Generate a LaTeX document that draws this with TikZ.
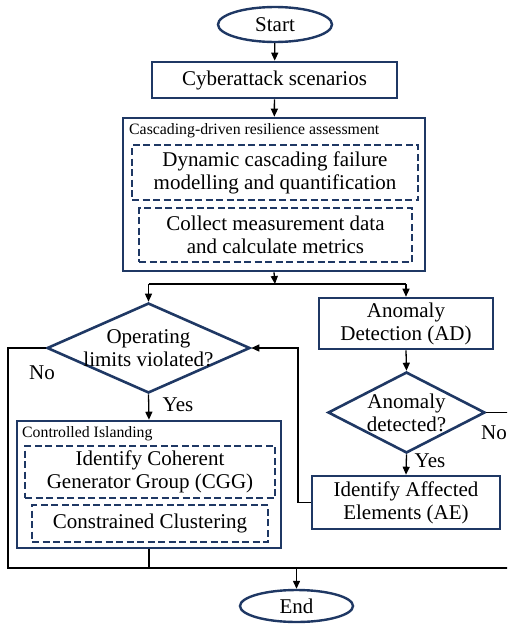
\documentclass[tikz,border=0pt]{standalone}
\usepackage{fontspec}
\setmainfont{Liberation Serif}
\usetikzlibrary{shapes.geometric,arrows.meta}
\definecolor{navy}{HTML}{1F3864}
\tikzset{
  x=1pt,y=-1pt,
  bigtxt/.style={font=\fontsize{21}{23}\selectfont,align=center},
  smalltxt/.style={font=\fontsize{15.8}{18}\selectfont,inner sep=0pt},
  solidbox/.style={draw=navy,line width=2.6pt,rectangle,inner sep=0pt,bigtxt},
  dashbox/.style={draw=navy,line width=2.2pt,dash pattern=on 7pt off 3.5pt,rectangle,inner sep=0pt,bigtxt},
  term/.style={draw=navy,line width=2.4pt,ellipse,inner sep=0pt,bigtxt},
  decision/.style={draw=navy,line width=2.6pt,diamond,inner sep=0pt},
  conn/.style={draw=black,line width=1.3pt},
  arr/.style={conn,-{Triangle[length=8pt,width=7pt]}},
  lbl/.style={bigtxt,inner sep=0pt}
}
\begin{document}
\begin{tikzpicture}
\useasboundingbox (0,0) rectangle (507,624);
\clip (0,0) rectangle (507,624);
% nodes
\node[term,minimum width=114,minimum height=35] (start) at (275,24.5) {Start};
\node[solidbox,minimum width=245,minimum height=36] (cyber) at (274.5,80) {Cyberattack scenarios};
\node[solidbox,minimum width=302,minimum height=153] (cas) at (274,194.5) {};
\node[smalltxt,anchor=north west] (caslabel) at (129,123) {Cascading-driven resilience assessment};
\node[dashbox,minimum width=286,minimum height=55] (dyn) at (275,172.5) {Dynamic cascading failure\\modelling and quantification};
\node[dashbox,minimum width=273,minimum height=54] (col) at (275.5,235) {Collect measurement data\\and calculate metrics};
\coordinate (split) at (275,284);
\coordinate (splitL) at (148.5,284);
\coordinate (splitR) at (406,284);
\node[decision,minimum width=203,minimum height=90,
  label={[lbl]center:Operating\\limits violated?}] (d1) at (148.5,348) {};
\node[solidbox,minimum width=174,minimum height=51] (ad) at (406,323.5) {Anomaly\\Detection (AD)};
\node[decision,minimum width=157,minimum height=81,
  label={[lbl]center:Anomaly\\detected?}] (d2) at (406.5,412.5) {};
\node[solidbox,minimum width=188,minimum height=53] (ae) at (406,502.5) {Identify Affected\\Elements (AE)};
\node[solidbox,minimum width=264,minimum height=127] (ci) at (149,484.5) {};
\node[smalltxt,anchor=north west] (cilabel) at (22,426) {Controlled Islanding};
\node[dashbox,minimum width=250,minimum height=52] (cgg) at (150,472) {Identify Coherent\\Generator Group (CGG)};
\node[dashbox,minimum width=236,minimum height=37] (cc) at (150,523.5) {Constrained Clustering};
\node[term,minimum width=113,minimum height=32] (end) at (296.5,606) {End};
% labels
\node[lbl] (no1) at (42,373) {No};
\node[lbl] (yes1) at (178,405) {Yes};
\node[lbl] (yes2) at (430,461) {Yes};
\node[lbl,anchor=west] (no2) at (481,433) {No};
% helper coordinates
\coordinate (bl) at (8,568);
\coordinate (br) at (520,568);
\coordinate (ll) at (8,348);
\coordinate (endtop) at (296.5,568);
\coordinate (citop) at (149,568);
\coordinate (rr) at (520,412.5);
\coordinate (aeL) at (298,502.5);
\coordinate (aeU) at (298,348);
% connectors
\draw[arr] (start) -- (cyber);
\draw[arr] (cyber) -- (cas);
\draw[arr] (cas.south) -- (split);
\draw[conn] (splitL) -- (splitR);
\draw[arr] (splitL) -- (d1.north);
\draw[arr] (splitR) -- (ad.north);
\draw[arr] (d1.south) -- (ci.north);
\draw[arr] (ad.south) -- (d2.north);
\draw[arr] (d2.south) -- (ae.north);
\draw[conn] (d1.west) -- (ll) -- (bl) -- (br);
\draw[conn] (d2.east) -- (rr) -- (br);
\draw[conn] (ci.south) -- (citop);
\draw[arr] (ae.west) -- (aeL) -- (aeU) -- (d1.east);
\draw[arr] (endtop) -- (end.north);
\end{tikzpicture}
\end{document}
